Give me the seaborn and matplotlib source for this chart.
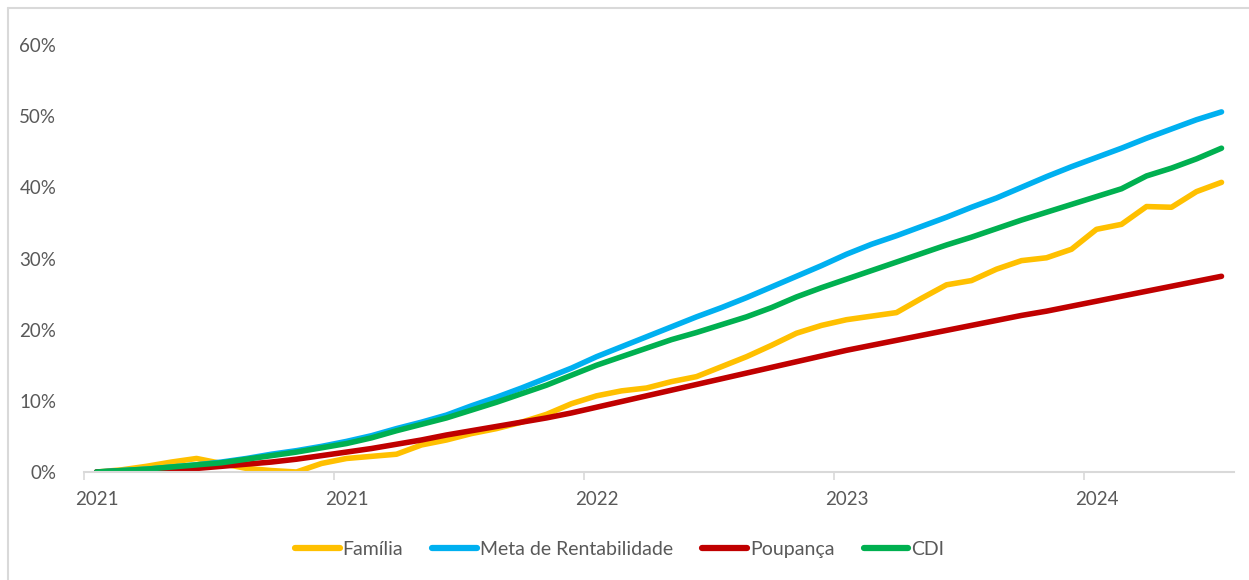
import pandas as pd
import matplotlib
matplotlib.use("Agg")
import matplotlib.pyplot as plt
import seaborn as sns
from matplotlib.ticker import FuncFormatter, FixedLocator
from matplotlib.lines import Line2D

sns.set_theme(style="white")
plt.rcParams["font.family"] = ["Lato", "DejaVu Sans"]

# datas mensais (jan/2021 a out/2024)
datas = pd.date_range("2021-01-01", periods=46, freq="MS")

# rentabilidade acumulada em %
familia = [0.0, 0.3, 0.8, 1.4, 1.9, 1.2, 0.5, 0.2, 0.0, 1.2,
           1.9, 2.2, 2.5, 3.8, 4.5, 5.4, 6.1, 7.0, 8.1, 9.6,
           10.7, 11.4, 11.8, 12.7, 13.4, 14.8, 16.2, 17.8, 19.5, 20.6,
           21.4, 21.9, 22.4, 24.4, 26.3, 26.9, 28.5, 29.7, 30.1, 31.3,
           34.1, 34.8, 37.3, 37.2, 39.4, 40.7]
meta = [0.0, 0.2, 0.4, 0.7, 1.0, 1.4, 1.9, 2.5, 3.0, 3.6,
        4.3, 5.1, 6.1, 7.0, 8.0, 9.3, 10.5, 11.8, 13.2, 14.6,
        16.2, 17.6, 19.0, 20.4, 21.8, 23.1, 24.5, 26.0, 27.5, 29.0,
        30.6, 32.0, 33.2, 34.5, 35.8, 37.2, 38.5, 40.0, 41.5, 42.9,
        44.2, 45.5, 46.9, 48.2, 49.5, 50.6]
poupanca = [0.0, 0.1, 0.2, 0.3, 0.5, 0.8, 1.1, 1.4, 1.8, 2.3,
            2.8, 3.3, 3.9, 4.5, 5.2, 5.8, 6.4, 7.0, 7.6, 8.3,
            9.1, 9.9, 10.7, 11.5, 12.3, 13.1, 13.9, 14.7, 15.5, 16.3,
            17.1, 17.8, 18.5, 19.2, 19.9, 20.6, 21.3, 22.0, 22.6, 23.3,
            24.0, 24.7, 25.4, 26.1, 26.8, 27.5]
cdi = [0.0, 0.2, 0.4, 0.7, 1.0, 1.3, 1.8, 2.3, 2.8, 3.4,
       4.0, 4.8, 5.8, 6.7, 7.6, 8.7, 9.8, 11.0, 12.2, 13.6,
       15.0, 16.2, 17.4, 18.6, 19.6, 20.7, 21.8, 23.1, 24.6, 25.9,
       27.1, 28.3, 29.5, 30.7, 31.9, 33.0, 34.2, 35.4, 36.5, 37.6,
       38.7, 39.8, 41.6, 42.7, 44.0, 45.5]

series = ["Família", "Meta de Rentabilidade", "Poupança", "CDI"]
cores = ["#FFC000", "#00B0F0", "#C00000", "#00B050"]

df = pd.DataFrame({"Família": familia, "Meta de Rentabilidade": meta,
                   "Poupança": poupanca, "CDI": cdi})
df["pos"] = range(len(datas))
df_long = df.melt(id_vars="pos", var_name="serie", value_name="valor")
df_long["valor"] = df_long["valor"] / 100

fig = plt.figure(figsize=(12.49, 5.80), dpi=100)
ax = fig.add_axes([84 / 1249, 108 / 580, 1150 / 1249, 427 / 580])

sns.lineplot(data=df_long, x="pos", y="valor", hue="serie", hue_order=series,
             palette=cores, linewidth=4, ax=ax, legend=False)

ax.set_xlim(-0.5, len(datas) - 0.5)
ax.set_ylim(0, 0.6)
ax.set_yticks([0, 0.1, 0.2, 0.3, 0.4, 0.5, 0.6])
ax.yaxis.set_major_formatter(FuncFormatter(lambda v, _: f"{v * 100:.0f}%"))

# marcas entre categorias, rotulos a cada 10 meses (ano da data)
marcas = [i - 0.5 for i in range(0, len(datas), 10)]
rotulos_pos = list(range(0, len(datas), 10))
ax.xaxis.set_major_locator(FixedLocator(marcas))
ax.xaxis.set_minor_locator(FixedLocator(rotulos_pos))
ax.set_xticklabels([""] * len(marcas))
ax.set_xticklabels([str(datas[i].year) for i in rotulos_pos], minor=True)
ax.tick_params(axis="x", which="major", length=6, width=1.2, color="#D9D9D9", bottom=True)
ax.tick_params(axis="x", which="minor", length=0, pad=14, labelsize=13.5, labelcolor="#595959")
ax.tick_params(axis="y", length=0, pad=20, labelsize=13.5, labelcolor="#595959")
ax.set_xlabel("")
ax.set_ylabel("")

for lado in ["top", "right", "left"]:
    ax.spines[lado].set_visible(False)
ax.spines["bottom"].set_color("#D9D9D9")
ax.spines["bottom"].set_linewidth(1.5)
ax.grid(False)

handles = [Line2D([0], [0], color=c, linewidth=4.5) for c in cores]
leg = fig.legend(handles, series, loc="center", bbox_to_anchor=(0.496, 0.053), ncol=4,
                 frameon=False, fontsize=14, handlelength=2.3, handletextpad=0.15,
                 columnspacing=1.5)
for t in leg.get_texts():
    t.set_color("#595959")

# borda do grafico (canto superior esquerdo)
fig.add_artist(Line2D([8 / 1249, 8 / 1249], [0, 1 - 8 / 580], color="#D9D9D9", linewidth=1.5,
                      transform=fig.transFigure))
fig.add_artist(Line2D([8 / 1249, 1], [1 - 8 / 580, 1 - 8 / 580], color="#D9D9D9", linewidth=1.5,
                      transform=fig.transFigure))

fig.savefig("out.png", dpi=100)
